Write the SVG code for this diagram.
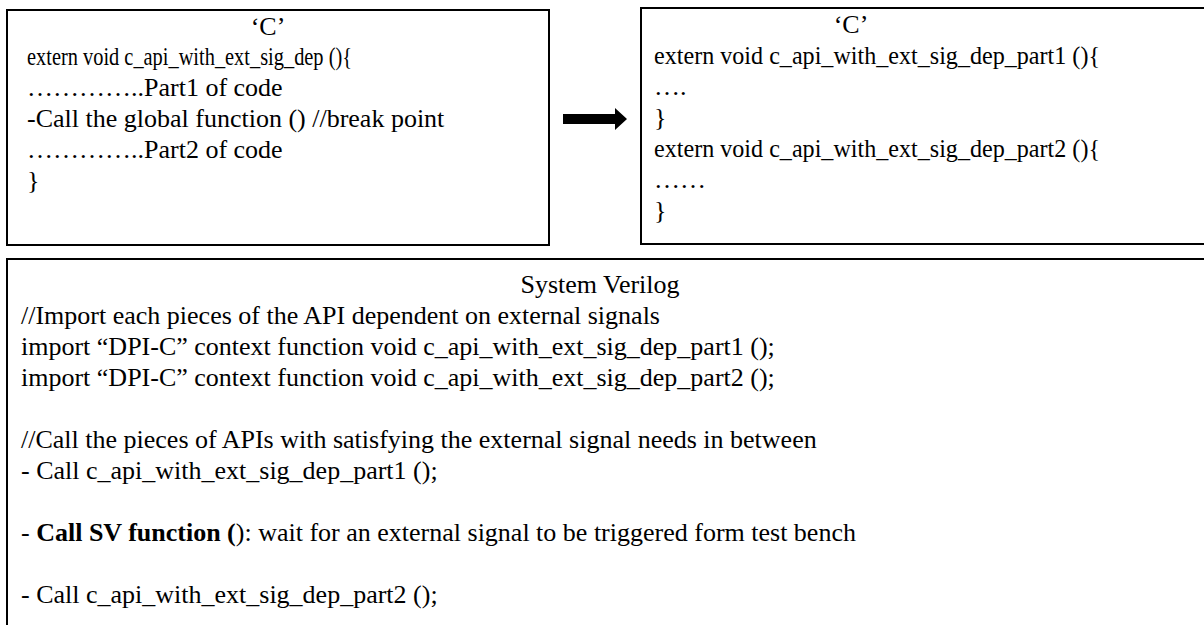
<svg xmlns="http://www.w3.org/2000/svg" width="1204" height="625" viewBox="0 0 1204 625">
<style>
.box{fill:#fff;stroke:#000;stroke-width:2}
text{font-family:"Liberation Serif","Times New Roman",serif;font-size:26px;fill:#000}
.b{font-weight:bold}
</style>
<rect width="1204" height="625" fill="#fff"/>
<g id="c-original">
<rect class="box" x="7" y="10" width="542" height="235"/>
<text x="268" y="35" text-anchor="middle">‘C’</text>
<text x="27" y="65" textLength="325" lengthAdjust="spacingAndGlyphs">extern void c_api_with_ext_sig_dep (){</text>
<text x="27" y="96">…………..Part1 of code</text>
<text x="27" y="127">-Call the global function () //break point</text>
<text x="27" y="158">…………..Part2 of code</text>
<text x="27" y="189">}</text>
</g>
<g id="c-split">
<rect class="box" x="641" y="8" width="620" height="236"/>
<text x="851" y="33" text-anchor="middle">‘C’</text>
<text x="654" y="64" textLength="446" lengthAdjust="spacingAndGlyphs">extern void c_api_with_ext_sig_dep_part1 (){</text>
<text x="654" y="95">….</text>
<text x="654" y="126">}</text>
<text x="654" y="157" textLength="446" lengthAdjust="spacingAndGlyphs">extern void c_api_with_ext_sig_dep_part2 (){</text>
<text x="654" y="188">……</text>
<text x="654" y="219">}</text>
</g>
<g id="connectors">
<polygon points="563,114 615,114 615,108 627,119 615,130 615,124 563,124" fill="#000"/>
</g>
<g id="system-verilog">
<rect class="box" x="7" y="259" width="1260" height="420"/>
<text x="600" y="293" text-anchor="middle">System Verilog</text>
<text x="21" y="324">//Import each pieces of the API dependent on external signals</text>
<text x="21" y="355">import “DPI-C” context function void c_api_with_ext_sig_dep_part1 ();</text>
<text x="21" y="386">import “DPI-C” context function void c_api_with_ext_sig_dep_part2 ();</text>
<text x="21" y="448">//Call the pieces of APIs with satisfying the external signal needs in between</text>
<text x="21" y="479">- Call c_api_with_ext_sig_dep_part1 ();</text>
<text x="21" y="541">- <tspan class="b">Call SV function (</tspan>): wait for an external signal to be triggered form test bench</text>
<text x="21" y="603">- Call c_api_with_ext_sig_dep_part2 ();</text>
</g>
</svg>
